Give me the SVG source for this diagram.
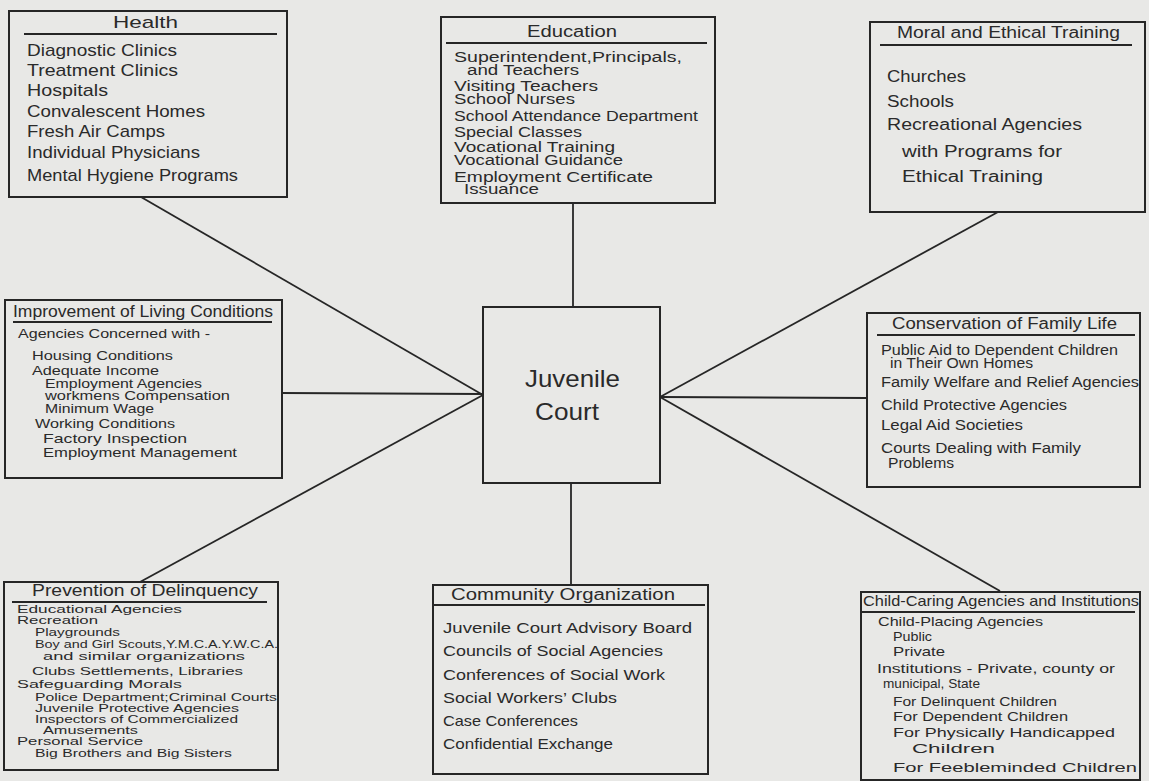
<svg xmlns="http://www.w3.org/2000/svg" width="1149" height="781" viewBox="0 0 1149 781">
<style>
.bg{fill:#e8e8e6}
.box{fill:none;stroke:#262626;stroke-width:2}
.hl{stroke:#262626;stroke-width:1.8}
.c{stroke:#262626;stroke-width:1.8;fill:none}
text{font-family:"Liberation Sans",Arial,sans-serif;fill:#2a2a2a}
.s17{font-size:17px}
.s16{font-size:16px}
.s15{font-size:15px}
.s14{font-size:14px}
.s13{font-size:13px}
.s12{font-size:12px}
.s11{font-size:11.5px}
.big{font-size:24px}
</style>
<rect class="bg" x="0" y="0" width="1149" height="781"/>
<g id="connectors">
<line class="c" x1="141" y1="197" x2="483" y2="395"/>
<line class="c" x1="282" y1="393" x2="483" y2="394"/>
<line class="c" x1="140" y1="582" x2="483" y2="395"/>
<line class="c" x1="573" y1="203" x2="573" y2="307"/>
<line class="c" x1="571" y1="483" x2="571" y2="585"/>
<line class="c" x1="998" y1="212" x2="660" y2="397"/>
<line class="c" x1="660" y1="397" x2="867" y2="398"/>
<line class="c" x1="660" y1="397" x2="1000" y2="591"/>
</g>
<g id="juvenile-court">
<rect class="box" x="483" y="307" width="177" height="176"/>
<text class="big" x="525" y="387" textLength="95" lengthAdjust="spacingAndGlyphs">Juvenile</text>
<text class="big" x="535" y="420" textLength="64" lengthAdjust="spacingAndGlyphs">Court</text>
</g>
<g id="health">
<rect class="box" x="9" y="11" width="278" height="186"/>
<text class="s17" x="113" y="28" textLength="65" lengthAdjust="spacingAndGlyphs">Health</text>
<line class="hl" x1="24" y1="34" x2="277" y2="34"/>
<g class="s17">
<text x="27" y="56" textLength="150" lengthAdjust="spacingAndGlyphs">Diagnostic Clinics</text>
<text x="27" y="76" textLength="151" lengthAdjust="spacingAndGlyphs">Treatment Clinics</text>
<text x="27" y="96" textLength="81" lengthAdjust="spacingAndGlyphs">Hospitals</text>
<text x="27" y="117" textLength="178" lengthAdjust="spacingAndGlyphs">Convalescent Homes</text>
<text x="27" y="137" textLength="138" lengthAdjust="spacingAndGlyphs">Fresh Air Camps</text>
<text x="27" y="158" textLength="173" lengthAdjust="spacingAndGlyphs">Individual Physicians</text>
<text x="27" y="181" textLength="211" lengthAdjust="spacingAndGlyphs">Mental Hygiene Programs</text>
</g>
</g>
<g id="education">
<rect class="box" x="441" y="17" width="274" height="186"/>
<text class="s16" x="527" y="37" textLength="90" lengthAdjust="spacingAndGlyphs">Education</text>
<line class="hl" x1="446" y1="43" x2="707" y2="43"/>
<g class="s14">
<text x="454" y="62" textLength="228" lengthAdjust="spacingAndGlyphs">Superintendent,Principals,</text>
<text x="467" y="75" textLength="112" lengthAdjust="spacingAndGlyphs">and Teachers</text>
<text x="454" y="91" textLength="144" lengthAdjust="spacingAndGlyphs">Visiting Teachers</text>
<text x="454" y="104" textLength="121" lengthAdjust="spacingAndGlyphs">School Nurses</text>
<text x="454" y="121" textLength="244" lengthAdjust="spacingAndGlyphs">School Attendance Department</text>
<text x="454" y="137" textLength="128" lengthAdjust="spacingAndGlyphs">Special Classes</text>
<text x="454" y="152" textLength="161" lengthAdjust="spacingAndGlyphs">Vocational Training</text>
<text x="454" y="165" textLength="169" lengthAdjust="spacingAndGlyphs">Vocational Guidance</text>
<text x="454" y="182" textLength="199" lengthAdjust="spacingAndGlyphs">Employment Certificate</text>
<text x="464" y="194" textLength="75" lengthAdjust="spacingAndGlyphs">Issuance</text>
</g>
</g>
<g id="moral-ethical">
<rect class="box" x="870" y="22" width="275" height="190"/>
<text class="s16" x="897" y="38" textLength="223" lengthAdjust="spacingAndGlyphs">Moral and Ethical Training</text>
<line class="hl" x1="880" y1="45" x2="1132" y2="45"/>
<g class="s16">
<text x="887" y="82" textLength="79" lengthAdjust="spacingAndGlyphs">Churches</text>
<text x="887" y="107" textLength="67" lengthAdjust="spacingAndGlyphs">Schools</text>
<text x="887" y="130" textLength="195" lengthAdjust="spacingAndGlyphs">Recreational Agencies</text>
<text x="902" y="157" textLength="160" lengthAdjust="spacingAndGlyphs">with Programs for</text>
<text x="902" y="182" textLength="141" lengthAdjust="spacingAndGlyphs">Ethical Training</text>
</g>
</g>
<g id="living-conditions">
<rect class="box" x="5" y="300" width="277" height="178"/>
<text class="s16" x="13" y="317" textLength="260" lengthAdjust="spacingAndGlyphs">Improvement of Living Conditions</text>
<line class="hl" x1="13" y1="322" x2="272" y2="322"/>
<g class="s13">
<text x="18" y="338" textLength="192" lengthAdjust="spacingAndGlyphs">Agencies Concerned with -</text>
<text x="32" y="360" textLength="141" lengthAdjust="spacingAndGlyphs">Housing Conditions</text>
<text x="32" y="375" textLength="127" lengthAdjust="spacingAndGlyphs">Adequate Income</text>
<text x="45" y="388" textLength="157" lengthAdjust="spacingAndGlyphs">Employment Agencies</text>
<text x="45" y="400" textLength="185" lengthAdjust="spacingAndGlyphs">workmens Compensation</text>
<text x="45" y="413" textLength="109" lengthAdjust="spacingAndGlyphs">Minimum Wage</text>
<text x="35" y="428" textLength="140" lengthAdjust="spacingAndGlyphs">Working Conditions</text>
<text x="43" y="443" textLength="144" lengthAdjust="spacingAndGlyphs">Factory Inspection</text>
<text x="43" y="457" textLength="194" lengthAdjust="spacingAndGlyphs">Employment Management</text>
</g>
</g>
<g id="family-life">
<rect class="box" x="867" y="313" width="273" height="174"/>
<text class="s16" x="892" y="329" textLength="225" lengthAdjust="spacingAndGlyphs">Conservation of Family Life</text>
<line class="hl" x1="877" y1="335" x2="1135" y2="335"/>
<g class="s14">
<text x="881" y="355" textLength="237" lengthAdjust="spacingAndGlyphs">Public Aid to Dependent Children</text>
<text x="890" y="368" textLength="143" lengthAdjust="spacingAndGlyphs">in Their Own Homes</text>
<text x="881" y="387" textLength="258" lengthAdjust="spacingAndGlyphs">Family Welfare and Relief Agencies</text>
<text x="881" y="410" textLength="186" lengthAdjust="spacingAndGlyphs">Child Protective Agencies</text>
<text x="881" y="430" textLength="142" lengthAdjust="spacingAndGlyphs">Legal Aid Societies</text>
<text x="881" y="453" textLength="200" lengthAdjust="spacingAndGlyphs">Courts Dealing with Family</text>
<text x="888" y="468" textLength="66" lengthAdjust="spacingAndGlyphs">Problems</text>
</g>
</g>
<g id="delinquency">
<rect class="box" x="4" y="582" width="274" height="188"/>
<text class="s16" x="32" y="596" textLength="226" lengthAdjust="spacingAndGlyphs">Prevention of Delinquency</text>
<line class="hl" x1="12" y1="602" x2="267" y2="602"/>
<g class="s11">
<text x="17" y="613" textLength="165" lengthAdjust="spacingAndGlyphs">Educational  Agencies</text>
<text x="17" y="624" textLength="81" lengthAdjust="spacingAndGlyphs">Recreation</text>
<text x="35" y="636" textLength="85" lengthAdjust="spacingAndGlyphs">Playgrounds</text>
<text x="35" y="648" textLength="243" lengthAdjust="spacingAndGlyphs">Boy and Girl Scouts,Y.M.C.A.Y.W.C.A.</text>
<text x="43" y="660" textLength="202" lengthAdjust="spacingAndGlyphs">and similar organizations</text>
<text x="32" y="675" textLength="211" lengthAdjust="spacingAndGlyphs">Clubs Settlements, Libraries</text>
<text x="17" y="688" textLength="165" lengthAdjust="spacingAndGlyphs">Safeguarding Morals</text>
<text x="35" y="701" textLength="242" lengthAdjust="spacingAndGlyphs">Police Department;Criminal Courts</text>
<text x="35" y="712" textLength="204" lengthAdjust="spacingAndGlyphs">Juvenile Protective Agencies</text>
<text x="35" y="723" textLength="203" lengthAdjust="spacingAndGlyphs">Inspectors of Commercialized</text>
<text x="43" y="734" textLength="95" lengthAdjust="spacingAndGlyphs">Amusements</text>
<text x="17" y="745" textLength="126" lengthAdjust="spacingAndGlyphs">Personal Service</text>
<text x="35" y="757" textLength="197" lengthAdjust="spacingAndGlyphs">Big Brothers and Big Sisters</text>
</g>
</g>
<g id="community">
<rect class="box" x="433" y="585" width="275" height="189"/>
<text class="s16" x="451" y="600" textLength="224" lengthAdjust="spacingAndGlyphs">Community Organization</text>
<line class="hl" x1="433" y1="605" x2="705" y2="605"/>
<g class="s15">
<text x="443" y="633" textLength="249" lengthAdjust="spacingAndGlyphs">Juvenile Court Advisory Board</text>
<text x="443" y="656" textLength="220" lengthAdjust="spacingAndGlyphs">Councils of Social Agencies</text>
<text x="443" y="680" textLength="222" lengthAdjust="spacingAndGlyphs">Conferences of Social Work</text>
<text x="443" y="703" textLength="174" lengthAdjust="spacingAndGlyphs">Social Workers’ Clubs</text>
<text x="443" y="726" textLength="135" lengthAdjust="spacingAndGlyphs">Case Conferences</text>
<text x="443" y="749" textLength="170" lengthAdjust="spacingAndGlyphs">Confidential Exchange</text>
</g>
</g>
<g id="child-caring">
<rect class="box" x="861" y="592" width="279" height="188"/>
<text class="s15" x="863" y="606" textLength="276" lengthAdjust="spacingAndGlyphs">Child-Caring Agencies and Institutions</text>
<line class="hl" x1="861" y1="612" x2="1135" y2="612"/>
<g class="s13">
<text x="878" y="626" textLength="165" lengthAdjust="spacingAndGlyphs">Child-Placing Agencies</text>
<text x="893" y="641" textLength="39" lengthAdjust="spacingAndGlyphs">Public</text>
<text x="893" y="656" textLength="52" lengthAdjust="spacingAndGlyphs">Private</text>
<text x="877" y="673" textLength="238" lengthAdjust="spacingAndGlyphs">Institutions - Private, county or</text>
<text x="883" y="688" textLength="97" lengthAdjust="spacingAndGlyphs">municipal, State</text>
<text x="893" y="706" textLength="164" lengthAdjust="spacingAndGlyphs">For Delinquent Children</text>
<text x="893" y="721" textLength="175" lengthAdjust="spacingAndGlyphs">For Dependent Children</text>
<text x="893" y="737" textLength="222" lengthAdjust="spacingAndGlyphs">For Physically Handicapped</text>
<text x="912" y="753" textLength="83" lengthAdjust="spacingAndGlyphs">Children</text>
<text x="893" y="772" textLength="244" lengthAdjust="spacingAndGlyphs">For Feebleminded Children</text>
</g>
</g>
</svg>
